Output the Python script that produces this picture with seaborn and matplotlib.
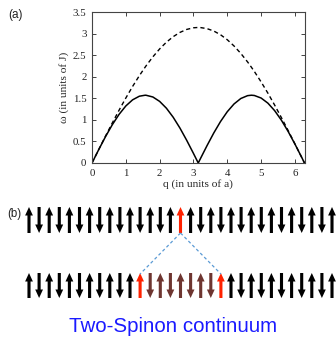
import numpy as np
import pandas as pd
import matplotlib
matplotlib.use("Agg")
import matplotlib.pyplot as plt
import seaborn as sns
from matplotlib.patches import FancyArrow

# ---- data ----
q_vals = [0.0, 0.2, 0.4, 0.6, 0.8, 1.0, 1.2, 1.4, 1.571, 1.6, 1.8, 2.0, 2.2, 2.4, 2.6, 2.8,
          3.0, 3.1416, 3.2, 3.4, 3.6, 3.8, 4.0, 4.2, 4.4, 4.6, 4.712, 4.8, 5.0, 5.2, 5.4,
          5.6, 5.8, 6.0, 6.2, 6.2832]
lower_bound = [0.0, 0.312, 0.612, 0.887, 1.127, 1.322, 1.464, 1.548, 1.571, 1.570, 1.530,
               1.428, 1.270, 1.061, 0.810, 0.526, 0.222, 0.0, 0.092, 0.401, 0.695, 0.961,
               1.189, 1.369, 1.495, 1.561, 1.571, 1.565, 1.506, 1.388, 1.214, 0.992, 0.730,
               0.439, 0.131, 0.0]
upper_bound = [0.0, 0.314, 0.624, 0.928, 1.223, 1.506, 1.774, 2.024, 2.221, 2.254, 2.461,
               2.644, 2.800, 2.928, 3.027, 3.096, 3.134, 3.142, 3.140, 3.115, 3.059, 2.973,
               2.857, 2.712, 2.540, 2.343, 2.221, 2.122, 1.880, 1.620, 1.343, 1.052, 0.752,
               0.443, 0.131, 0.0]
x_ticks = [0, 1, 2, 3, 4, 5, 6]
y_ticks = [0, 0.5, 1, 1.5, 2, 2.5, 3, 3.5]
y_tick_labels = ["0", "0.5", "1", "1.5", "2", "2.5", "3", "3.5"]

# spin chains: +1 up, -1 down; kind: 0 normal, 1 flipped (red), 2 domain (brown)
top_spins = [1, -1] * 7 + [1, 1, 1] + [-1, 1] * 7
top_kind = [0] * 15 + [1] + [0] * 15
bottom_spins = [1, -1] * 5 + [1, 1] + [-1, 1, -1, 1, -1, 1, -1] + [1] + [1, -1] * 5 + [1]
bottom_kind = [0] * 11 + [1] + [2] * 7 + [1] + [0] * 11
caption = "Two-Spinon continuum"

# ---- figure ----
sns.set_theme(style="ticks")
plt.rcParams["font.family"] = ["Liberation Serif", "DejaVu Serif"]
W, H = 336, 339
fig = plt.figure(figsize=(W / 100, H / 100), dpi=100)

ax = fig.add_axes([92 / W, 1 - 163 / H, (304.5 - 92) / W, (163 - 12) / H])
df = pd.DataFrame({"q": q_vals, "lower": lower_bound, "upper": upper_bound})
sns.lineplot(data=df, x="q", y="upper", ax=ax, color="black", lw=1.0,
             linestyle=(0, (3, 2.2)), sort=False)
sns.lineplot(data=df, x="q", y="lower", ax=ax, color="black", lw=1.1, sort=False)
ax.set_xlim(0, 6.2832)
ax.set_ylim(0, 3.5)
ax.set_xticks(x_ticks)
ax.set_xticklabels([str(t) for t in x_ticks])
ax.set_yticks(y_ticks)
ax.set_yticklabels(y_tick_labels)
ax.tick_params(direction="in", length=3, width=0.6, labelsize=7.8, colors="#222222",
               top=True, right=True, pad=4)
for s in ax.spines.values():
    s.set_linewidth(0.8)
    s.set_color("#444444")
ax.set_xlabel("q (in units of a)", fontsize=8.2, labelpad=1)
ax.set_ylabel("\u03c9 (in units of J)", fontsize=8.2, labelpad=3)

# ---- overlay for panel (b) in pixel coordinates ----
ov = fig.add_axes([0, 0, 1, 1])
ov.set_xlim(0, W)
ov.set_ylim(H, 0)
ov.axis("off")
ov.patch.set_alpha(0)

sans = ["Liberation Sans", "DejaVu Sans"]
ov.text(8, 15, "(a)", fontsize=8.5, family=sans, va="center", ha="left", color="#222222")
ov.text(7, 214, "(b)", fontsize=8.3, family=sans, va="center", ha="left", color="#222222")

colors = {0: "black", 1: "#ff2200", 2: "#6e3530"}
x0, dx = 29, 10.1


def draw_row(spins, kinds, ytop, ybot):
    for i, (s, k) in enumerate(zip(spins, kinds)):
        x = x0 + i * dx
        if s > 0:
            ys, ye = ybot, ytop
        else:
            ys, ye = ytop, ybot
        ov.add_patch(FancyArrow(x, ys, 0, ye - ys, width=3.1, head_width=7.8,
                                head_length=8.5, length_includes_head=True,
                                color=colors[k], lw=0))


draw_row(top_spins, top_kind, 207, 233)
draw_row(bottom_spins, bottom_kind, 273, 298)

# dashed connectors
xr_top = x0 + top_kind.index(1) * dx
reds = [i for i, k in enumerate(bottom_kind) if k == 1]
for i in reds:
    ov.plot([xr_top, x0 + i * dx], [233, 274], color="#5b9bd5", lw=0.9,
            linestyle=(0, (2.5, 2)))

ov.text(173, 327, caption, fontsize=14.8, family=sans, color="#1a1aff",
        ha="center", va="center")

fig.savefig("out.png", dpi=100)
